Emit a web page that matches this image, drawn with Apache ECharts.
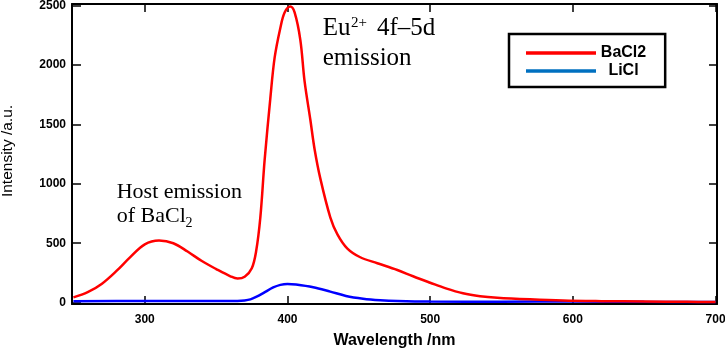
<!DOCTYPE html>
<html><head><meta charset="utf-8">
<script src="https://cdn.jsdelivr.net/npm/echarts@6/dist/echarts.min.js"></script>
<style>html,body{margin:0;padding:0;background:#fff}#c{width:725px;height:352px}</style>
</head><body><div id="c"></div>
<script>
// ---- data ----
const bacl2Wavelength = [250,260,270,280,290,300,310,320,330,340,350,360,365,370,375,378,381,384,388,391,395,398,402,405,409,412,416,419,423,430,435,442,451,463,477,488,500,511,523,535,547,570,593,620,650,680,700];
const bacl2Intensity  = [45,88,160,265,385,490,522,500,430,350,283,222,203,218,290,430,720,1200,1720,2060,2310,2440,2490,2440,2210,1860,1540,1290,1045,718,575,455,382,332,275,222,168,120,79,55,42,28,18,13,10,7,5];
const liclWavelength  = [250,300,350,365,370,374,378,383,390,395,400,406,418,430,441,453,465,477,500,550,600,650,700];
const liclIntensity   = [12,14,14,15,19,28,48,80,128,150,158,153,130,93,57,34,21,14,9,8,10,7,5];
const seriesNames = ['BaCl2', 'LiCl'];
const xTicks = [300,400,500,600,700];
const yTicks = [0,500,1000,1500,2000,2500];
const xName = 'Wavelength /nm';
const yName = 'Intensity /a.u.';
const euText = ['Eu', '2+', '4f\u20135d', 'emission'];
const hostText = ['Host emission', 'of BaCl', '2'];

const toPairs = (xs, ys) => xs.map((x, i) => [x, ys[i]]);
const labelFont = {fontFamily: 'Liberation Sans', fontWeight: 'bold', fontSize: 12, color: '#000', formatter: v => String(v)};
const axisLineStyle = {color: '#000', width: 2};
const tickStyle = {color: '#000', width: 1.5};

const chart = echarts.init(document.getElementById('c'), null, {renderer: 'canvas'});
const serif = 'Liberation Serif';
function txt(s, x, y, size) {
  return {type: 'text', x: x, y: y, z: 100,
    style: {text: s, font: size + 'px "' + serif + '"', fill: '#000', align: 'left', verticalAlign: 'middle'}};
}
chart.setOption({
  animation: false,
  backgroundColor: '#fff',
  grid: {left: 72, right: 8, top: 4, bottom: 48, containLabel: false, outerBoundsMode: 'none'},
  xAxis: [
    {type: 'value', min: 249, max: 701, position: 'bottom',
     axisLine: {show: true, onZero: false, lineStyle: axisLineStyle},
     axisTick: {show: true, inside: true, length: 8, customValues: xTicks, lineStyle: tickStyle},
     axisLabel: Object.assign({customValues: xTicks, margin: 10}, labelFont),
     splitLine: {show: false},
     name: xName, nameLocation: 'middle', nameGap: 29,
     nameTextStyle: {fontFamily: 'Liberation Sans', fontWeight: 'bold', fontSize: 16, color: '#000'}},
    {type: 'value', min: 249, max: 701, position: 'top',
     axisLine: {show: true, onZero: false, lineStyle: axisLineStyle},
     axisTick: {show: true, inside: true, length: 8, customValues: xTicks, lineStyle: tickStyle},
     axisLabel: {show: false}, splitLine: {show: false}}
  ],
  yAxis: [
    {type: 'value', min: -11, max: 2511, position: 'left',
     axisLine: {show: true, onZero: false, lineStyle: axisLineStyle},
     axisTick: {show: true, inside: true, length: 9, customValues: yTicks, lineStyle: tickStyle},
     axisLabel: Object.assign({customValues: yTicks, margin: 6}, labelFont),
     splitLine: {show: false},
     name: yName, nameLocation: 'middle', nameGap: 56,
     nameTextStyle: {fontFamily: 'Liberation Sans', fontSize: 15.5, color: '#000', padding: [0, 0, 0, 6]}},
    {type: 'value', min: -11, max: 2511, position: 'right',
     axisLine: {show: true, onZero: false, lineStyle: axisLineStyle},
     axisTick: {show: true, inside: true, length: 8, customValues: yTicks, lineStyle: tickStyle},
     axisLabel: {show: false}, splitLine: {show: false}}
  ],
  legend: {
    left: 509, top: 34, orient: 'vertical',
    icon: 'rect',
    itemWidth: 70, itemHeight: 3.5, itemGap: 2,
    padding: [11, 19, 8, 17],
    borderColor: '#000', borderWidth: 2.5, borderRadius: 0, backgroundColor: '#fff',
    formatter: n => '{t|' + n + '}',
    textStyle: {rich: {t: {width: 45, align: 'center', fontFamily: 'Liberation Sans', fontWeight: 'bold', fontSize: 16, color: '#000'}}},
    data: [
      {name: seriesNames[0], itemStyle: {color: '#ff0000'}},
      {name: seriesNames[1], itemStyle: {color: '#0070c0'}}
    ]
  },
  series: [
    {name: seriesNames[1], type: 'line', data: toPairs(liclWavelength, liclIntensity),
     symbol: 'none', smooth: 0.35, z: 2,
     lineStyle: {color: '#0000ff', width: 2.5}, itemStyle: {color: '#0000ff'}},
    {name: seriesNames[0], type: 'line', data: toPairs(bacl2Wavelength, bacl2Intensity),
     symbol: 'none', smooth: 0.35, z: 3,
     lineStyle: {color: '#ff0000', width: 2.5}, itemStyle: {color: '#ff0000'}}
  ],
  graphic: [
    txt(euText[0], 322.7, 28.5, 25),
    txt(euText[1], 351, 23, 15),
    txt(euText[2], 377, 28.5, 25),
    txt(euText[3], 322.7, 58.2, 25),
    txt(hostText[0], 116.7, 192, 22),
    txt(hostText[1], 116.7, 216, 22),
    txt(hostText[2], 185.5, 223.5, 14)
  ]
});
</script></body></html>
